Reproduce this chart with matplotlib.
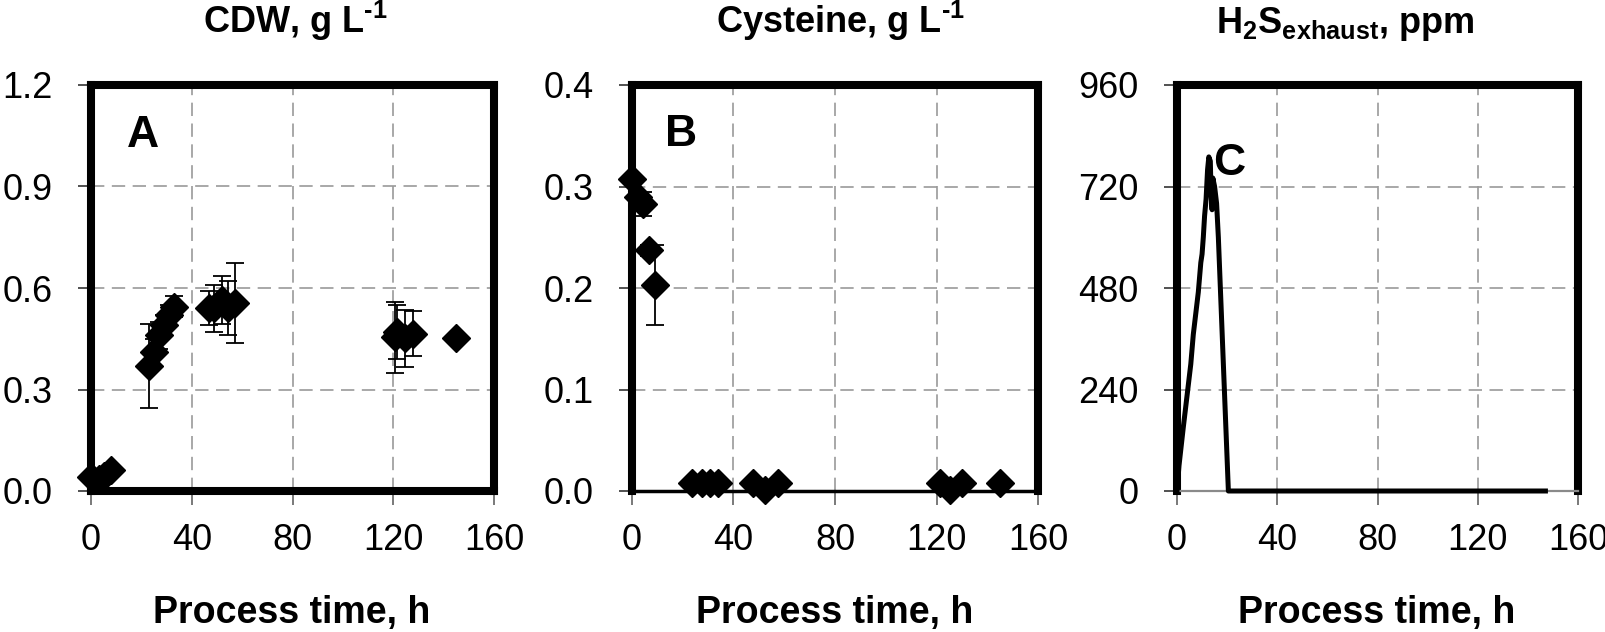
import matplotlib
matplotlib.use("Agg")
import matplotlib.pyplot as plt

# ---------------- data ----------------
# Panel A: CDW (g/L)
cdw_time = [0, 3, 5, 8, 23, 25, 27, 29, 31, 33, 47, 49, 52, 54.5, 57, 120.5, 121.5, 124.5, 128, 145]
cdw_val = [0.04, 0.035, 0.045, 0.062, 0.37, 0.41, 0.46, 0.49, 0.52, 0.545,
           0.54, 0.54, 0.565, 0.54, 0.555, 0.455, 0.47, 0.451, 0.465, 0.451]
cdw_err = [0, 0, 0, 0, 0.125, 0.04, 0.04, 0.03, 0.03, 0.03,
           0.05, 0.07, 0.07, 0.08, 0.118, 0.105, 0.08, 0.084, 0.066, 0]

# Panel B: Cysteine (g/L)
cys_time = [0, 2.5, 4.2, 6.8, 9.1, 23.5, 27.5, 30.7, 34, 47.8, 52.4, 57.7, 121.4, 125.3, 130, 145]
cys_val = [0.307, 0.29, 0.283, 0.237, 0.203, 0.008, 0.008, 0.008, 0.008, 0.008, 0.001, 0.008,
           0.008, 0.001, 0.008, 0.008]
cys_err = [0, 0, 0.012, 0.005, 0.039, 0, 0, 0, 0, 0, 0, 0, 0, 0, 0, 0]

# Panel C: H2S in exhaust (ppm)
h2s_time = [0, 0.8, 2.5, 4.5, 5.5, 6.5, 7.5, 8.5, 9.5, 10, 10.5, 11, 11.6, 12.2, 12.7,
            13.3, 13.6, 14, 14.3, 15, 15.8, 16.5, 18.5, 20.5, 147]
h2s_val = [0, 60, 150, 250, 300, 370, 420, 470, 540, 560, 600, 650, 690, 760, 790,
           780, 700, 665, 740, 720, 680, 600, 300, 0, 0]

titles = ["CDW, g L$^{\\text{-1}}$",
          "Cysteine, g L$^{\\text{-1}}$",
          "H$_{\\text{2}}$S$_{\\text{exhaust}}$, ppm"]
panel_letters = ["A", "B", "C"]
x_ticks = [0, 40, 80, 120, 160]
y_ticks_a = [0.0, 0.3, 0.6, 0.9, 1.2]
y_ticks_b = [0.0, 0.1, 0.2, 0.3, 0.4]
y_ticks_c = [0, 240, 480, 720, 960]
y_labels_a = ["0.0", "0.3", "0.6", "0.9", "1.2"]
y_labels_b = ["0.0", "0.1", "0.2", "0.3", "0.4"]
y_labels_c = ["0", "240", "480", "720", "960"]
xlabel = "Process time, h"

# ---------------- style ----------------
plt.rcParams["font.family"] = ["Liberation Sans", "DejaVu Sans"]
plt.rcParams["mathtext.fontset"] = "custom"
plt.rcParams["mathtext.rm"] = "Liberation Sans:bold"
plt.rcParams["mathtext.it"] = "Liberation Sans:bold"
plt.rcParams["mathtext.bf"] = "Liberation Sans:bold"

W, H = 1606, 632
fig = plt.figure(figsize=(W / 100, H / 100), dpi=100)

def px_axes(left, right, top, bottom):
    return fig.add_axes([left / W, 1 - bottom / H, (right - left) / W, (bottom - top) / H])

axA = px_axes(91, 494, 85, 491)
axB = px_axes(632, 1038, 85, 491)
axC = px_axes(1177, 1578, 85, 491)
axes = [axA, axB, axC]

grid_style = dict(color="#9a9a9a", linestyle=(0, (8, 4.5)), linewidth=1.2)

for ax, yt, ylab in zip(axes, [y_ticks_a, y_ticks_b, y_ticks_c],
                        [y_labels_a, y_labels_b, y_labels_c]):
    ax.set_xlim(0, 160)
    ax.set_ylim(yt[0], yt[-1])
    ax.set_xticks(x_ticks)
    ax.set_xticklabels([str(t) for t in x_ticks])
    ax.set_yticks(yt)
    ax.set_yticklabels(ylab)
    ax.grid(True, **grid_style)
    ax.set_axisbelow(True)
    for s in ["left", "top", "right", "bottom"]:
        ax.spines[s].set_color("black")
        ax.spines[s].set_linewidth(5.8)
    ax.tick_params(axis="y", direction="out", length=9.5, width=1.1, color="#222222",
                   labelsize=26, pad=18)
    ax.tick_params(axis="x", direction="out", length=10, width=1.1, color="#555555",
                   labelsize=26, pad=13)

axB.spines["bottom"].set_linewidth(2.5)
axC.spines["bottom"].set_color("#8a8a8a")
axC.spines["bottom"].set_linewidth(1.6)

marker_kw = dict(marker="D", ms=14.5, color="black", linestyle="none", clip_on=False, zorder=4)
err_kw = dict(fmt="none", ecolor="black", elinewidth=1.3, capsize=6.5, capthick=1.3, zorder=3)

axA.errorbar(cdw_time, cdw_val, yerr=cdw_err, **err_kw)
axA.plot(cdw_time, cdw_val, **marker_kw)

axB.errorbar(cys_time, cys_val, yerr=cys_err, **err_kw)
axB.plot(cys_time, cys_val, **marker_kw)

axC.plot(h2s_time, h2s_val, color="black", linewidth=3.6, solid_joinstyle="round",
         zorder=4, clip_on=False)

# panel letters
axA.text(20.6, 1.052, "A", fontsize=32, fontweight="bold", ha="center", va="center")
axB.text(19.3, 0.351, "B", fontsize=32, fontweight="bold", ha="center", va="center")
axC.text(21.0, 775, "C", fontsize=32, fontweight="bold", ha="center", va="center")

# titles and x labels
for cx, t in zip([295, 840, 1345], titles):
    fig.text(cx / W, 1 - 33 / H, t, fontsize=26, fontweight="bold",
             ha="center", va="baseline")
for cx in [292, 835, 1377]:
    fig.text(cx / W, 1 - 623 / H, xlabel, fontsize=27, fontweight="bold",
             ha="center", va="baseline")

fig.savefig("out.png", dpi=100)
